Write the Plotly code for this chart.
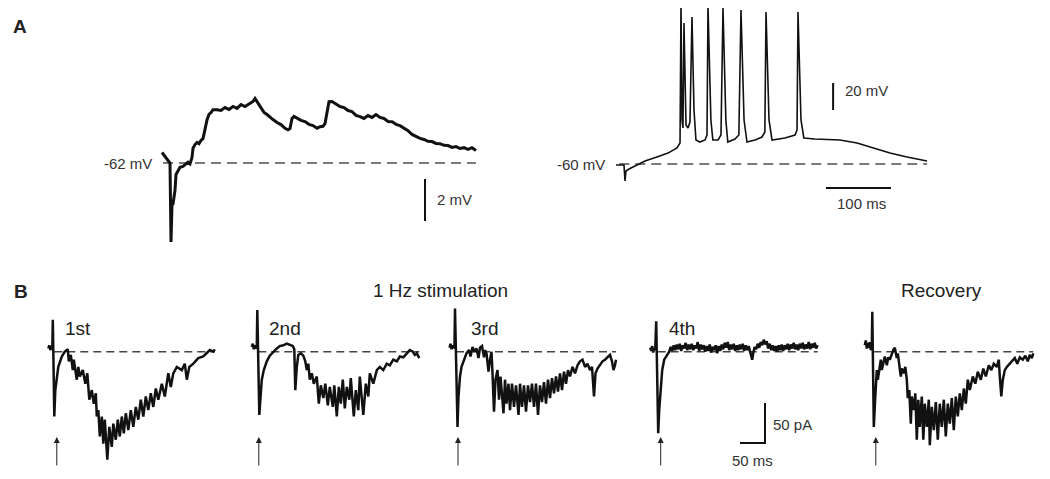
import plotly.graph_objects as go

W, H = 1050, 479
OFF = 8  # the page body adds an 8 px margin around the figure

# ---- Panel A, left: subthreshold response (ms, mV)
A_LEFT_T = [-2, 6, 12, 14, 16, 18, 20, 22, 24, 26, 30, 34, 40, 46, 50, 54, 58, 60, 64, 68,
            72, 76, 80, 84, 88, 92, 96, 100, 108, 116, 124, 132, 140, 148, 156, 164, 172,
            180, 184, 190, 196, 202, 208, 214, 220, 228, 236, 244, 250, 254, 258, 262, 268,
            276, 284, 292, 300, 308, 314, 320, 324, 328, 332, 338, 346, 354, 362, 370, 378,
            386, 394, 402, 410, 418, 426, 434, 442, 450, 458, 466, 474, 482, 490, 498, 506,
            514, 522, 530, 538, 546, 554, 562, 570, 578, 586, 594, 602, 610, 618, 626]
A_LEFT_MV = [-61.50, -61.76, -61.90, -62.00, -65.76, -64.00, -63.95, -63.70, -63.30, -62.55,
             -62.35, -62.20, -62.16, -62.02, -61.96, -62.04, -61.74, -61.30, -61.12, -61.02,
             -61.08, -60.93, -60.84, -60.40, -59.95, -59.68, -59.60, -59.46, -59.46, -59.50,
             -59.36, -59.45, -59.31, -59.40, -59.22, -59.31, -59.17, -59.07, -58.93, -59.16,
             -59.36, -59.59, -59.69, -59.83, -59.93, -60.07, -60.17, -60.35, -60.42, -60.36,
             -59.88, -59.78, -59.88, -59.97, -60.03, -60.16, -60.22, -60.35, -60.27, -60.25,
             -60.12, -59.50, -59.08, -59.07, -59.17, -59.31, -59.36, -59.50, -59.55, -59.73,
             -59.79, -59.88, -59.74, -59.83, -59.69, -59.83, -59.88, -60.02, -60.03, -60.16,
             -60.22, -60.35, -60.46, -60.64, -60.74, -60.83, -60.88, -60.97, -60.98, -61.07,
             -61.08, -61.16, -61.17, -61.26, -61.22, -61.31, -61.27, -61.35, -61.27, -61.40]
A_LEFT_REST = -62

# ---- Panel A, right: spike train (ms, mV)
A_RIGHT_T = [0, 12.3, 13.8, 15.4, 20, 29.2, 44.6, 63, 80, 93.8, 98.5, 100, 101.5, 103, 104.6,
             107.7, 110.8, 113.8, 116.9, 120, 123, 129, 137, 140, 141.5, 146, 149, 157, 161.5,
             164.6, 169, 172, 183, 189, 192.3, 197, 201.5, 214, 224.6, 229, 230.8, 235.4, 240,
             260, 275.4, 278.5, 280, 284.6, 289, 306, 344.6, 370.8, 395.4, 421.5, 447.7, 478.5]
A_RIGHT_MV = [-60.7, -60.7, -72.6, -65.2, -63.7, -61.5, -57.8, -54.8, -51.9, -48.1, -44.4, 59.3,
              -27.4, -33.3, 44.5, -31.1, -33.3, -28.9, 48.9, -20, -42.2, -43.7, -42.2, -38.5,
              57.1, -27.4, -42.2, -42.2, -38.5, 55.6, -27.4, -43.7, -41.5, -38.5, 54.1, -27.4,
              -43.7, -42.2, -40, -36.3, 52.6, -27.4, -42.2, -40.7, -38.5, -34.8, 52.6, -27.4,
              -40.7, -41.5, -42.2, -44.4, -48.1, -51.9, -54.8, -57.8]
A_RIGHT_REST = -60

# ---- Panel B: evoked currents (ms, pA)
B1_T = [-10, -8, -6, -4, -2, -1, 0, 2, 4, 7, 10, 17, 23, 29, 31, 35, 39, 41, 47, 50, 53, 59, 64,
        68, 72, 77, 81, 85, 87, 90, 93, 97, 100, 103, 108, 112, 117, 120, 125, 129, 133, 137,
        141, 145, 150, 155, 160, 165, 170, 175, 180, 185, 190, 195, 200, 205, 210, 217, 223,
        230, 235, 240, 247, 257, 263, 267, 272, 280, 290, 300, 307, 313, 320, 323]
B1_PA = [4, 8, 2, 7, 3, 40, 2, -81, -48, -35, -19, -6, 0, 3, -12, -4, -23, -10, -35, -19, -31,
         -23, -40, -27, -60, -48, -65, -52, -81, -73, -106, -81, -115, -85, -135, -94, -119,
         -90, -110, -85, -106, -81, -102, -77, -98, -73, -94, -69, -85, -60, -81, -56, -73,
         -52, -69, -46, -60, -40, -56, -27, -44, -27, -19, -23, -15, -35, -19, -15, -8, -6,
         -2, 2, 0, 3]

B2_T = [-11, -9, -7, -5, -3, -1, 0, 1, 4, 7, 9, 13, 19, 25, 32, 39, 45, 52, 59, 65, 71, 74, 76,
        79, 82, 87, 92, 96, 99, 102, 105, 109, 113, 119, 123, 127, 132, 136, 141, 145, 151,
        154, 159, 163, 167, 171, 175, 179, 184, 187, 193, 197, 202, 205, 212, 217, 222, 225,
        232, 239, 245, 252, 259, 265, 272, 279, 285, 292, 299, 305, 311, 315, 319, 324]
B2_PA = [6, 10, 3, 8, 4, 7, 52, 2, -79, -52, -35, -23, -12, -5, 0, 4, 7, 8, 10, 8, 7, 3, -48,
         -19, -4, -2, -5, -12, -23, -15, -35, -27, -40, -31, -65, -42, -58, -40, -67, -44, -69,
         -42, -81, -44, -65, -35, -71, -44, -60, -33, -81, -48, -73, -31, -79, -40, -56, -27,
         -40, -23, -19, -23, -15, -17, -10, -12, -6, -7, -2, 2, 0, -4, -2, -8]

B3_T = [-11, -9, -7, -5, -3, -1, 0, 2, 5, 7, 10, 13, 18, 23, 28, 31, 35, 39, 43, 47, 50, 54, 58,
        60, 63, 67, 70, 73, 75, 78, 81, 85, 88, 91, 97, 100, 103, 107, 110, 114, 118, 122, 127,
        130, 134, 138, 142, 146, 150, 154, 158, 162, 166, 170, 174, 178, 182, 186, 190, 194,
        198, 202, 206, 210, 214, 218, 222, 226, 230, 235, 240, 245, 250, 255, 260, 265, 270,
        274, 278, 281, 285, 290, 295, 300, 305, 310, 314, 317, 320, 322]
B3_PA = [5, 10, 3, 8, 4, 8, 54, 2, -94, -56, -31, -19, -10, -2, 2, -6, 6, 0, 4, -8, 5, 7, -7, 2,
         -2, -25, -10, 0, -27, -75, -35, -23, -60, -31, -77, -35, -65, -40, -73, -40, -69, -42,
         -79, -40, -69, -42, -75, -42, -63, -40, -69, -40, -79, -42, -63, -38, -65, -35, -58,
         -33, -52, -31, -50, -27, -48, -25, -40, -23, -31, -19, -27, -17, -12, -10, -19, -15,
         -23, -19, -56, -27, -21, -17, -12, -10, -7, -4, -12, -23, -17, -10]

B4_T = [-13, -11, -9, -7, -5, -3, -1, 0, 3, 5, 8, 11, 15, 20,
        25, 28, 31, 34, 37, 40, 43, 46, 49, 52, 55, 58, 61, 64, 67, 70, 73, 76, 79, 82,
        85, 88, 91, 94, 97, 100, 103, 106, 109, 112, 115, 118, 121, 124, 127, 130, 133,
        136, 139, 142, 145, 148, 151, 154, 157, 160, 163, 166, 169, 172, 175, 178, 181,
        184, 187, 189, 191, 193, 196, 199, 202, 205, 208, 211, 214, 217, 220, 223, 226,
        229, 232, 235, 238, 241, 244, 247, 250, 253, 256, 259, 262, 265, 268, 271, 274,
        277, 280, 283, 286, 289, 292, 295, 298, 301, 304, 307, 310, 313, 316, 319, 322]
B4_PA = [5, 1, 7, -1, 4, 2, 38, 2, -102, -73, -40, -23, -10, -4,
         0, 6, 1, 8, 2, 9, 3, 10, 1, 8, 4, 11, 2, 9, 3, 10, 2, 8, 4, 12,
         1, 9, 3, 8, 0, 7, 1, 9, -1, 6, 2, 8, -2, 7, 1, 9, 3,
         11, 5, 12, 2, 9, 3, 10, 1, 8, 2, 9, 3, 10, 1, 8, 2,
         7, 0, -4, -10, -2, 6, 3, 10, 5, 12, 8, 15, 9, 13, 4, 10,
         2, 8, 1, 7, 0, 8, 2, 9, 1, 8, 3, 10, 2, 9, 4, 11,
         3, 9, 2, 10, 4, 11, 3, 9, 4, 12, 3, 10, 5, 11, 4, 8]

B5_T = [-15, -13, -11, -9, -7, -5, -3, -1, 0, 1, 3, 6, 9, 11, 14, 17, 19, 22, 25, 29, 32, 35, 39,
        42, 45, 49, 51, 54, 57, 59, 63, 66, 69, 71, 74, 77, 79, 83, 86, 89, 92, 95, 99, 102,
        105, 109, 113, 115, 119, 123, 127, 131, 135, 139, 143, 147, 151, 155, 159, 163, 167,
        171, 175, 179, 183, 187, 191, 195, 201, 206, 211, 217, 222, 227, 233, 238, 243, 249,
        253, 255, 258, 261, 265, 269, 274, 279, 285, 290, 295, 301, 306, 311, 315, 319, 322]
B5_PA = [8, 14, 4, 11, 5, 12, 2, 6, 50, -6, -94, -56, -23, -35, -19, -10, -23, -12, -6, -17,
         -7, -10, -2, 2, 5, -8, -2, -19, -31, -21, -27, -19, -35, -58, -48, -90, -56, -73, -52,
         -110, -60, -94, -56, -110, -65, -94, -60, -117, -69, -98, -63, -110, -65, -94, -60,
         -106, -65, -90, -58, -98, -56, -81, -52, -73, -46, -65, -35, -48, -31, -40, -25, -35,
         -21, -31, -17, -23, -15, -19, -10, -31, -56, -35, -23, -19, -15, -12, -8, -15, -7,
         -10, -5, -12, -4, -8, -2]

B_LABELS = ["1st", "2nd", "3rd", "4th", ""]
B_ARROW_T = [7, 3, 6, 8, 7]

# scale bar sizes
SB_A_LEFT_MV = 2
SB_A_RIGHT_MV = 20
SB_A_RIGHT_MS = 100
SB_B_PA = 50
SB_B_MS = 50


def x_range(x0px, px_per_unit):
    x0px -= OFF
    return [-x0px / px_per_unit, (W - x0px) / px_per_unit]


def y_range(y0px, v0, px_per_unit):
    y0px -= OFF
    return [v0 - (H - y0px) / px_per_unit, v0 + y0px / px_per_unit]


def paper(px, py):
    return (px - OFF) / W, 1 - (py - OFF) / H


TRACE = "#111111"
DASH_A = dict(color="#7a7a7a", width=2, dash="10px,6px")
DASH_B = dict(color="#444444", width=1.5, dash="8px,5px")
FONT = "Liberation Sans, Arial, sans-serif"

fig = go.Figure()

# A left  (axes x / y)
fig.add_trace(go.Scatter(x=[0, A_LEFT_T[-1]], y=[A_LEFT_REST] * 2, mode="lines",
                         line=DASH_A, xaxis="x", yaxis="y"))
fig.add_trace(go.Scatter(x=A_LEFT_T, y=A_LEFT_MV, mode="lines",
                         line=dict(color=TRACE, width=3), xaxis="x", yaxis="y"))
fig.add_trace(go.Scatter(x=[524, 524], y=[-62.76, -62.76 - SB_A_LEFT_MV], mode="lines",
                         line=dict(color=TRACE, width=2), xaxis="x", yaxis="y"))

# A right (axes x2 / y2)
fig.add_trace(go.Scatter(x=[5, A_RIGHT_T[-1]], y=[A_RIGHT_REST] * 2, mode="lines",
                         line=DASH_A, xaxis="x2", yaxis="y2"))
fig.add_trace(go.Scatter(x=A_RIGHT_T, y=A_RIGHT_MV, mode="lines",
                         line=dict(color=TRACE, width=1.6), xaxis="x2", yaxis="y2"))
fig.add_trace(go.Scatter(x=[334, 334], y=[0, -SB_A_RIGHT_MV], mode="lines",
                         line=dict(color=TRACE, width=2), xaxis="x2", yaxis="y2"))
fig.add_trace(go.Scatter(x=[323, 323 + SB_A_RIGHT_MS], y=[-77.8, -77.8], mode="lines",
                         line=dict(color=TRACE, width=2), xaxis="x2", yaxis="y2"))

# B panels (axes x3..x7 / y3)
b_traces = [(B1_T, B1_PA), (B2_T, B2_PA), (B3_T, B3_PA), (B4_T, B4_PA), (B5_T, B5_PA)]
b_x0px = [53.3, 257.3, 455, 656.7, 872.3]
for i, (t, pa) in enumerate(b_traces):
    xa = "x%d" % (i + 3)
    fig.add_trace(go.Scatter(x=[2, t[-1]], y=[0, 0], mode="lines", line=DASH_B,
                             xaxis=xa, yaxis="y3"))
    fig.add_trace(go.Scatter(x=t, y=pa, mode="lines", line=dict(color=TRACE, width=2.5),
                             xaxis=xa, yaxis="y3"))

# B scale bar (in 4th panel coordinates)
fig.add_trace(go.Scatter(x=[216.6 - SB_B_MS, 216.6, 216.6], y=[-114, -114, -114 + SB_B_PA],
                         mode="lines", line=dict(color=TRACE, width=2), xaxis="x6", yaxis="y3"))

ann = []
small = dict(family=FONT, size=15, color="#333333")
big = dict(family=FONT, size=19, color="#222222")


def label(text, x, y, xref, yref, xanchor, font):
    return dict(text=text, x=x, y=y, xref=xref, yref=yref, xanchor=xanchor,
                yanchor="middle", showarrow=False, font=font)


ann.append(label("-62 mV", -18, -62, "x", "y", "right", small))
ann.append(label("2 mV", 544, -63.76, "x", "y", "left", small))
ann.append(label("-60 mV", -13.8, -60, "x2", "y2", "right", small))
ann.append(label("20 mV", 349, -5.2, "x2", "y2", "left", small))
ann.append(label("100 ms", 378, -89.1, "x2", "y2", "center", small))
ann.append(label("50 pA", 228.6, -91.6, "x6", "y3", "left", small))
ann.append(label("50 ms", 190.6, -135.4, "x6", "y3", "center", small))

label_t = [19.4, 19.4, 28, 20.6]
for i, lab in enumerate(B_LABELS):
    if lab:
        ann.append(label(lab, label_t[i], 28.4, "x%d" % (i + 3), "y3", "left", big))
ann.append(label("Recovery", 139, 77, "x7", "y3", "center", big))

px, py = paper(440, 290)
ann.append(label("1 Hz stimulation", px, py, "paper", "paper", "center", big))
px, py = paper(20, 26)
ann.append(label("<b>A</b>", px, py, "paper", "paper", "center", big))
px, py = paper(21, 291)
ann.append(label("<b>B</b>", px, py, "paper", "paper", "center", big))

for i, at in enumerate(B_ARROW_T):
    ann.append(dict(text="", x=at, y=-106.6, xref="x%d" % (i + 3), yref="y3",
                    showarrow=True, ax=0, ay=30, arrowhead=2, arrowsize=1.2,
                    arrowwidth=1, arrowcolor="#222222"))

hidden = dict(visible=False, domain=[0, 1], fixedrange=True)
layout = dict(
    width=W, height=H,
    margin=dict(l=0, r=0, t=0, b=0),
    paper_bgcolor="white", plot_bgcolor="rgba(0,0,0,0)",
    showlegend=False,
    annotations=ann,
    xaxis=dict(hidden, range=x_range(163, 0.5)),
    yaxis=dict(hidden, range=y_range(163, A_LEFT_REST, 21)),
    xaxis2=dict(hidden, range=x_range(616, 0.65), overlaying="x"),
    yaxis2=dict(hidden, range=y_range(164, A_RIGHT_REST, 1.35), overlaying="y"),
    yaxis3=dict(hidden, range=y_range(351.7, 0, 0.8), overlaying="y"),
)
for i, x0 in enumerate(b_x0px):
    layout["xaxis%d" % (i + 3)] = dict(hidden, range=x_range(x0, 0.5), overlaying="x")

fig.update_layout(**layout)
fig.write_html("out.html")
